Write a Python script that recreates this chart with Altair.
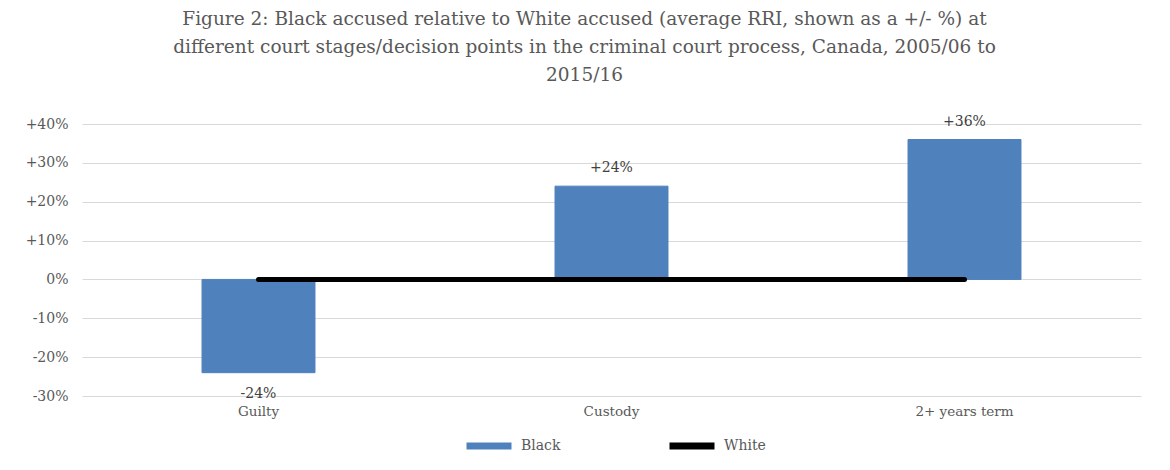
import altair as alt
import pandas as pd

categories = ["Guilty", "Custody", "2+ years term"]
black_values = [-24, 24, 36]
white_values = [0, 0, 0]
series_names = ["Black", "White"]
y_ticks = [-30, -20, -10, 0, 10, 20, 30, 40]
title_lines = [
    "Figure 2: Black accused relative to White accused (average RRI, shown as a +/- %) at",
    "different court stages/decision points in the criminal court process, Canada, 2005/06 to",
    "2015/16",
]

bars = pd.DataFrame({"stage": categories, "value": black_values, "series": "Black"})
bars["label"] = [("+" if v > 0 else "") + f"{v}%" for v in black_values]
line_df = pd.DataFrame({"stage": categories, "value": white_values, "series": "White"})

FONT = "DejaVu Serif"
GREY = "#595959"
BLUE = "#4f81bd"

x = alt.X(
    "stage:N",
    sort=categories,
    scale=alt.Scale(paddingInner=0.68, paddingOuter=0.34),
    axis=alt.Axis(title=None, labelAngle=0, domain=False, ticks=False, labelPadding=8,
                  labelFontSize=13.5, labelColor=GREY, labelFont=FONT),
)
y = alt.Y(
    "value:Q",
    scale=alt.Scale(domain=[-30, 40], nice=False),
    axis=alt.Axis(title=None, values=y_ticks, tickCount=20, domain=False, ticks=False,
                  gridColor="#d9d9d9",
                  labelPadding=14, labelFontSize=14, labelColor=GREY, labelFont=FONT,
                  labelOverlap=False, labelBound=False, labelFlush=False,
                  labelExpr="(datum.value > 0 ? '+' : '') + datum.value + '%'"),
)
stroke_scale = alt.Scale(domain=series_names, range=[BLUE, "#000000"])
legend = alt.Legend(title=None, orient="none", legendX=381, legendY=296, direction="horizontal",
                    symbolType="stroke", symbolSize=2025, symbolStrokeWidth=7, columnPadding=94,
                    labelFont=FONT, labelFontSize=14, labelColor=GREY, labelOffset=6)

bar = alt.Chart(bars).mark_bar(fill=BLUE).encode(
    x=x, y=y, stroke=alt.Stroke("series:N", scale=stroke_scale, legend=legend)
)
line = alt.Chart(line_df).mark_line(strokeWidth=5, strokeCap="round").encode(
    x=alt.X("stage:N", sort=categories), y="value:Q",
    stroke=alt.Stroke("series:N", scale=stroke_scale, legend=legend),
)
pos = alt.Chart(bars).transform_filter("datum.value > 0").mark_text(
    baseline="bottom", dy=-11, font=FONT, fontSize=14, color="#404040"
).encode(x=alt.X("stage:N", sort=categories), y="value:Q", text="label:N")
neg = alt.Chart(bars).transform_filter("datum.value < 0").mark_text(
    baseline="top", dy=14, font=FONT, fontSize=14, color="#404040"
).encode(x=alt.X("stage:N", sort=categories), y="value:Q", text="label:N")

chart = alt.layer(bar, line, pos, neg).properties(
    width=1059, height=272,
    autosize=alt.AutoSizeParams(type="none"),
    padding={"left": 74, "top": 116, "right": 15, "bottom": 76},
    title=alt.TitleParams(text=title_lines, font=FONT, fontSize=18.5, fontWeight="normal",
                          color=GREY, lineHeight=28, anchor="middle", dx=-27, offset=30),
).configure_view(stroke=None)

chart.save("out.html", embed_options={"renderer": "svg", "actions": False})
